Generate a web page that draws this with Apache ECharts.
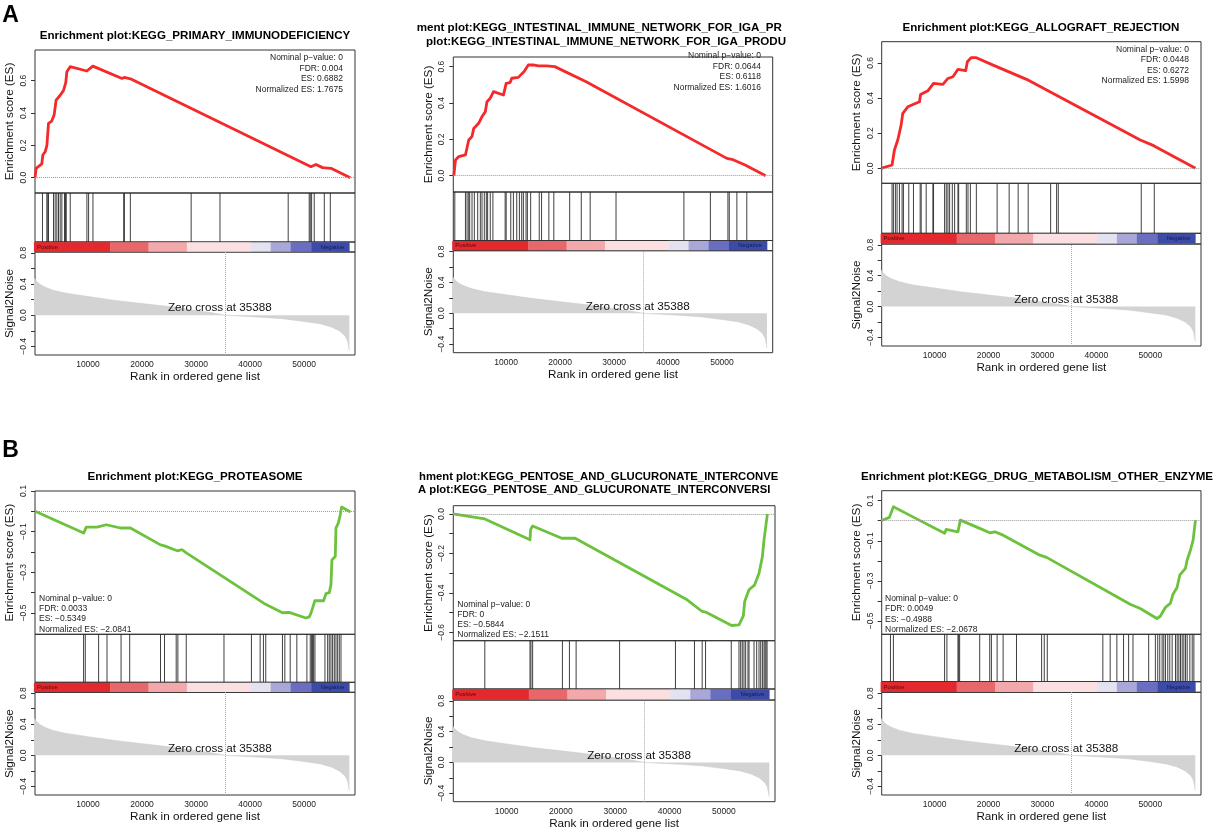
<!DOCTYPE html>
<html><head><meta charset="utf-8">
<script src="https://cdn.jsdelivr.net/npm/echarts@6/dist/echarts.min.js"></script>
<style>html,body{margin:0;padding:0;background:#fff}#c{width:1216px;height:834px}</style>
</head><body><div id="c"></div>
<script>
// ---------- shared data ----------
const N_GENES = 58350;
const ZERO_CROSS = 35388;
const rankTicks = [10000, 20000, 30000, 40000, 50000];
const s2nTicks = [-0.4, -0.2, 0, 0.2, 0.4, 0.6, 0.8];
const s2nLabels = [-0.4, 0, 0.4, 0.8];
const s2nRank = [1, 300, 1000, 2000, 3500, 6000, 10000, 15000, 20000, 25000, 30000, 33000, 35388, 38000, 42000, 46000, 50000, 53000, 55000, 56500, 57500, 58000, 58350];
const s2nValue = [0.48, 0.45, 0.40, 0.36, 0.32, 0.28, 0.24, 0.19, 0.15, 0.11, 0.06, 0.03, 0, -0.01, -0.025, -0.045, -0.08, -0.11, -0.15, -0.20, -0.26, -0.32, -0.45];
const heatBreaks = [0, 14100, 21200, 28300, 40100, 43800, 47500, 51300, N_GENES];
const heatColors = ['#e3282e', '#e8676b', '#f3a8ab', '#fcdfe1', '#e3e2f1', '#a9a7d8', '#6a6ec1', '#3c4ba7'];
const esTicksA = [0, 0.2, 0.4, 0.6];
const esTicksB1 = [0.1, 0, -0.1, -0.2, -0.3, -0.4, -0.5];
const esLabelsB1 = [0.1, -0.1, -0.3, -0.5];
const esTicksB2 = [0, -0.1, -0.2, -0.3, -0.4, -0.5, -0.6];
const esLabelsB2 = [0, -0.2, -0.4, -0.6];

// ---------- panel A1 ----------
const a1Title = 'Enrichment plot:KEGG_PRIMARY_IMMUNODEFICIENCY';
const a1Rank = [220, 400, 1460, 1650, 2080, 2400, 2700, 3300, 3750, 4100, 4860, 5480, 5900, 6100, 6700, 9800, 10900, 16300, 16700, 17850, 51250, 52170, 53400, 54950, 58540];
const a1ES = [0, 0.058, 0.085, 0.14, 0.16, 0.2, 0.336, 0.35, 0.39, 0.48, 0.51, 0.54, 0.59, 0.656, 0.687, 0.66, 0.69, 0.614, 0.62, 0.612, 0.068, 0.082, 0.062, 0.058, 0];
const a1Hits = [1580, 2390, 2570, 2700, 3620, 3930, 4240, 4550, 4860, 5170, 5660, 5850, 5980, 6720, 9800, 10120, 10920, 16610, 16740, 17840, 29090, 34420, 47040, 50930, 51120, 51370, 51860, 53720, 54830];
const a1Stats = ['Nominal p\u2212value: 0', 'FDR: 0.004', 'ES: 0.6882', 'Normalized ES: 1.7675'];

// ---------- panel A2 ----------
const a2Title1 = 'ment plot:KEGG_INTESTINAL_IMMUNE_NETWORK_FOR_IGA_PRODUCTION';
const a2Title2 = 'plot:KEGG_INTESTINAL_IMMUNE_NETWORK_FOR_IGA_PRODUCTION';
const a2Rank = [300, 600, 1220, 2450, 3060, 3670, 3980, 4900, 5520, 6130, 6440, 7050, 7660, 9500, 10000, 10730, 11040, 12260, 12880, 13300, 14100, 15020, 15940, 17480, 17790, 19010, 24830, 50900, 51840, 54290, 58090];
const a2ES = [0, 0.086, 0.105, 0.114, 0.196, 0.215, 0.26, 0.288, 0.325, 0.352, 0.407, 0.426, 0.462, 0.444, 0.508, 0.512, 0.536, 0.541, 0.56, 0.572, 0.609, 0.609, 0.604, 0.604, 0.609, 0.6, 0.517, 0.095, 0.09, 0.059, 0];
const a2Hits = [480, 2450, 2750, 3060, 3240, 3670, 4100, 4720, 5210, 5520, 5950, 6320, 6560, 7050, 7540, 9810, 10000, 10850, 11340, 11960, 12450, 12880, 13190, 13680, 13930, 14540, 16130, 16560, 17910, 18830, 21770, 23920, 25570, 30360, 42940, 47850, 51100, 51350, 52760, 54600];
const a2Stats = ['Nominal p\u2212value: 0', 'FDR: 0.0644', 'ES: 0.6118', 'Normalized ES: 1.6016'];

// ---------- panel A3 ----------
const a3Title = 'Enrichment plot:KEGG_ALLOGRAFT_REJECTION';
const a3Rank = [80, 2120, 2560, 3180, 3800, 4110, 5040, 7210, 7400, 8760, 9810, 11550, 12480, 13410, 14340, 15770, 16080, 16820, 17750, 20850, 27050, 48140, 50620, 58370];
const a3ES = [0, 0.019, 0.104, 0.161, 0.246, 0.313, 0.35, 0.379, 0.42, 0.441, 0.483, 0.477, 0.511, 0.521, 0.563, 0.555, 0.606, 0.63, 0.629, 0.587, 0.506, 0.161, 0.129, 0];
const a3Hits = [2120, 2370, 2740, 3050, 3490, 3980, 4230, 5220, 6090, 7330, 7520, 8450, 9690, 9810, 11860, 12170, 12480, 12790, 13290, 13720, 14340, 14470, 15890, 16200, 16640, 17750, 21600, 23830, 25500, 27360, 31520, 32630, 32940, 48320, 50740];
const a3Stats = ['Nominal p\u2212value: 0', 'FDR: 0.0448', 'ES: 0.6272', 'Normalized ES: 1.5998'];

// ---------- panel B1 ----------
const b1Title = 'Enrichment plot:KEGG_PROTEASOME';
const b1Rank = [220, 9190, 9500, 9690, 11670, 13400, 16000, 17850, 23420, 24160, 26510, 27430, 28050, 42580, 45980, 47220, 47400, 50310, 50930, 51240, 51980, 53590, 54030, 54640, 54950, 55130, 55750, 55880, 56310, 56680, 56930, 58540];
const b1ES = [0, -0.107, -0.115, -0.078, -0.078, -0.066, -0.082, -0.082, -0.165, -0.17, -0.194, -0.189, -0.202, -0.453, -0.499, -0.497, -0.505, -0.525, -0.519, -0.502, -0.439, -0.44, -0.405, -0.4, -0.362, -0.239, -0.222, -0.082, -0.058, -0.016, 0.021, -0.003];
const b1Hits = [9190, 9500, 11970, 13520, 16120, 17720, 23420, 24160, 26320, 26630, 28180, 35160, 40240, 41850, 42460, 42890, 45980, 46420, 47410, 48640, 50500, 51120, 51370, 51550, 51740, 51990, 53840, 54340, 54640, 54950, 55260, 55570, 55880, 56190, 56500, 56810];
const b1Stats = ['Nominal p\u2212value: 0', 'FDR: 0.0033', 'ES: \u22120.5349', 'Normalized ES: \u22122.0841'];

// ---------- panel B2 ----------
const b2Title1 = 'hment plot:KEGG_PENTOSE_AND_GLUCURONATE_INTERCONVERSION';
const b2Title2 = 'A plot:KEGG_PENTOSE_AND_GLUCURONATE_INTERCONVERSION';
const b2Rank = [150, 6000, 14310, 14430, 14800, 20150, 22620, 43230, 46000, 46800, 51420, 52770, 53570, 53820, 54620, 55660, 56460, 57080, 57380, 58000];
const b2ES = [0, -0.025, -0.131, -0.078, -0.061, -0.123, -0.123, -0.435, -0.494, -0.499, -0.565, -0.562, -0.516, -0.443, -0.384, -0.359, -0.3, -0.216, -0.131, 0];
const b2Hits = [6000, 14310, 14490, 14800, 20280, 21570, 22800, 30800, 41080, 44580, 46000, 46620, 51350, 52770, 53080, 53380, 53690, 54000, 54430, 54620, 55540, 56030, 56460, 56770, 57080, 57380, 57570, 57750, 57940];
const b2Stats = ['Nominal p\u2212value: 0', 'FDR: 0', 'ES: \u22120.5844', 'Normalized ES: \u22122.1511'];

// ---------- panel B3 ----------
const b3Title = 'Enrichment plot:KEGG_DRUG_METABOLISM_OTHER_ENZYME';
const b3Rank = [80, 1630, 2370, 5350, 11860, 12170, 14340, 14780, 18370, 20230, 21160, 22710, 29530, 30770, 46270, 48130, 51230, 51850, 52790, 53720, 54210, 54960, 55460, 56510, 56820, 57440, 57940, 58370];
const b3ES = [0, 0.017, 0.07, 0.028, -0.063, -0.043, -0.055, 0.003, -0.038, -0.06, -0.055, -0.072, -0.172, -0.183, -0.417, -0.438, -0.488, -0.477, -0.433, -0.413, -0.367, -0.333, -0.272, -0.238, -0.197, -0.147, -0.097, 0.003];
const b3Hits = [1820, 2370, 11860, 12290, 14340, 14470, 14650, 18370, 20230, 20540, 21600, 22710, 25190, 29850, 30340, 30900, 41200, 42560, 43800, 45040, 45980, 46790, 49700, 50940, 51380, 51750, 52190, 52500, 52810, 53240, 53610, 54050, 54670, 54980, 55290, 55600, 55910, 56220, 56530, 56840, 57330, 57770, 58080];
const b3Stats = ['Nominal p\u2212value: 0', 'FDR: 0.0049', 'ES: \u22120.4988', 'Normalized ES: \u22122.0678'];

// ---------- styling / layout ----------
const FONT = '"Liberation Sans", Arial, Helvetica, sans-serif';
const RED = '#f5282a';
const GREEN = '#6cc23d';
const X_MIN = 200, X_MAX = 59400;
const S2N_MIN = -0.51, S2N_MAX = 0.81;
const ZERO_TEXT_X = 34400, ZERO_TEXT_Y = 0.09;

const panels = [
  {rank: a1Rank, es: a1ES, hits: a1Hits, stats: a1Stats, color: RED, esTicks: esTicksA, esLabels: esTicksA,
   L: 35, R: 355, t: [50, 193, 242, 252, 355], esMin: -0.095, esMax: 0.79,
   st: {x: 343, y: 58, dy: 10.4, align: 'right'}},
  {rank: a2Rank, es: a2ES, hits: a2Hits, stats: a2Stats, color: RED, esTicks: esTicksA, esLabels: esTicksA,
   L: 453.3, R: 772.7, t: [57, 192, 240.5, 250.7, 352.7], esMin: -0.09, esMax: 0.653,
   st: {x: 761, y: 55.7, dy: 10.7, align: 'right'}},
  {rank: a3Rank, es: a3ES, hits: a3Hits, stats: a3Stats, color: RED, esTicks: esTicksA, esLabels: esTicksA,
   L: 881.7, R: 1201, t: [41.7, 183.3, 233.3, 244, 346], esMin: -0.085, esMax: 0.72,
   st: {x: 1189, y: 49.3, dy: 10.5, align: 'right'}},
  {rank: b1Rank, es: b1ES, hits: b1Hits, stats: b1Stats, color: GREEN, esTicks: esTicksB1, esLabels: esLabelsB1,
   L: 35, R: 355, t: [491, 634.3, 682.3, 692.3, 795], esMin: -0.605, esMax: 0.10,
   st: {x: 39, y: 598.3, dy: 10.3, align: 'left'}},
  {rank: b2Rank, es: b2ES, hits: b2Hits, stats: b2Stats, color: GREEN, esTicks: esTicksB2, esLabels: esLabelsB2,
   L: 453.3, R: 775, t: [505.7, 640.7, 689, 700, 801.7], esMin: -0.642, esMax: 0.042,
   st: {x: 457.3, y: 605, dy: 10, align: 'left'}},
  {rank: b3Rank, es: b3ES, hits: b3Hits, stats: b3Stats, color: GREEN, esTicks: esTicksB1, esLabels: esLabelsB1,
   L: 881.7, R: 1201, t: [490.7, 634.3, 681.7, 692.3, 795], esMin: -0.567, esMax: 0.15,
   st: {x: 885, y: 598.3, dy: 10.5, align: 'left'}}
];

const titles = [
  {text: a1Title, x: 195, y: 36, align: 'center', size: 11.6},
  {text: a2Title1, x: 416.7, y: 27.3, align: 'left', width: 371, size: 11.6},
  {text: a2Title2, x: 426, y: 41.7, align: 'left', width: 364, size: 11.6},
  {text: a3Title, x: 1041, y: 27.5, align: 'center', size: 11.6},
  {text: b1Title, x: 195, y: 476.7, align: 'center', size: 11.6},
  {text: b2Title1, x: 419, y: 476.7, align: 'left', width: 362, size: 11.3},
  {text: b2Title2, x: 418, y: 490, align: 'left', width: 363, size: 11.3},
  {text: b3Title, x: 1037, y: 476.7, align: 'center', size: 11.6}
];

function fmt(v) {
  const s = Math.abs(v).toFixed(1);
  return v < -1e-9 ? '\u2212' + s : s;
}

const grids = [], xAxes = [], yAxes = [], series = [], graphics = [];

panels.forEach((p, i) => {
  const base = i * 4;
  const w = p.R - p.L;
  for (let k = 0; k < 4; k++) {
    grids.push({left: p.L, top: p.t[k], width: w, height: p.t[k + 1] - p.t[k],
      show: true, borderColor: '#333', borderWidth: 1, backgroundColor: 'transparent', containLabel: false});
    const xa = {gridIndex: base + k, type: 'value', min: X_MIN, max: X_MAX, show: k === 3,
      axisLine: {show: false}, axisTick: {show: false}, splitLine: {show: false}};
    if (k === 3) {
      xa.axisLabel = {customValues: rankTicks, fontSize: 8.5, color: '#222', margin: 5, fontFamily: FONT,
        formatter: v => String(Math.round(v))};
      xa.name = 'Rank in ordered gene list';
      xa.nameLocation = 'middle';
      xa.nameGap = 16;
      xa.nameTextStyle = {fontSize: 11.7, color: '#111', fontFamily: FONT};
    }
    xAxes.push(xa);
  }
  yAxes.push({gridIndex: base, type: 'value', min: p.esMin, max: p.esMax,
    axisLine: {show: false}, splitLine: {show: false},
    axisTick: {show: true, length: 4, customValues: p.esTicks, lineStyle: {color: '#333', width: 1}},
    axisLabel: {customValues: p.esLabels, rotate: 90, fontSize: 8.5, color: '#222', margin: 7, fontFamily: FONT, formatter: fmt},
    name: 'Enrichment score (ES)', nameLocation: 'middle', nameGap: 19,
    nameTextStyle: {fontSize: 11.7, color: '#111', fontFamily: FONT}});
  yAxes.push({gridIndex: base + 1, type: 'value', min: 0, max: 1, show: false, splitLine: {show: false}});
  yAxes.push({gridIndex: base + 2, type: 'value', min: -0.04, max: 1.04, show: false, splitLine: {show: false}});
  yAxes.push({gridIndex: base + 3, type: 'value', min: S2N_MIN, max: S2N_MAX,
    axisLine: {show: false}, splitLine: {show: false},
    axisTick: {show: true, length: 4, customValues: s2nTicks, lineStyle: {color: '#333', width: 1}},
    axisLabel: {customValues: s2nLabels, rotate: 90, fontSize: 8.5, color: '#222', margin: 7, fontFamily: FONT, formatter: fmt},
    name: 'Signal2Noise', nameLocation: 'middle', nameGap: 19,
    nameTextStyle: {fontSize: 11.7, color: '#111', fontFamily: FONT}});

  series.push({type: 'line', xAxisIndex: base, yAxisIndex: base, data: [], z: 1, silent: true,
    markLine: {silent: true, symbol: 'none', animation: false, label: {show: false},
      lineStyle: {color: '#9a9a9a', type: 'dotted', width: 1}, data: [{yAxis: 0}]}});
  series.push({type: 'line', xAxisIndex: base, yAxisIndex: base,
    data: p.rank.map((r, j) => [r, p.es[j]]), showSymbol: false, symbol: 'none', silent: true, z: 3,
    lineStyle: {color: p.color, width: 2.8, join: 'round'}, itemStyle: {color: p.color}});
  series.push({type: 'custom', xAxisIndex: base + 1, yAxisIndex: base + 1, silent: true,
    data: p.hits.map(h => [h, 0]), encode: {x: 0, y: 1},
    renderItem: (params, api) => {
      const a = api.coord([api.value(0), 0]);
      const b = api.coord([api.value(0), 1]);
      return {type: 'line', shape: {x1: a[0], y1: a[1], x2: b[0], y2: b[1]},
        style: {stroke: '#2a2a2a', lineWidth: 0.9}};
    }});
  series.push({type: 'custom', xAxisIndex: base + 2, yAxisIndex: base + 2, silent: true,
    data: heatBreaks.slice(0, -1).map((b, j) => [b, heatBreaks[j + 1], j]), encode: {x: [0, 1]},
    renderItem: (params, api) => {
      const idx = api.value(2);
      const a = api.coord([api.value(0), 1]);
      const b = api.coord([api.value(1), 0]);
      const children = [{type: 'rect', shape: {x: a[0], y: a[1], width: b[0] - a[0] + 0.3, height: b[1] - a[1]},
        style: {fill: heatColors[idx]}}];
      if (idx === 0) children.push({type: 'text', x: a[0] + 3, y: (a[1] + b[1]) / 2,
        style: {text: 'Positive', font: '6px ' + FONT, fill: '#5a0a0a', verticalAlign: 'middle', textVerticalAlign: 'middle', textAlign: 'left'}});
      if (idx === heatColors.length - 1) children.push({type: 'text', x: b[0] - 5, y: (a[1] + b[1]) / 2,
        style: {text: 'Negative', font: '6px ' + FONT, fill: '#141a55', verticalAlign: 'middle', textVerticalAlign: 'middle', textAlign: 'right'}});
      return {type: 'group', children: children};
    }});
  series.push({type: 'line', xAxisIndex: base + 3, yAxisIndex: base + 3,
    data: s2nRank.map((r, j) => [r, s2nValue[j]]), showSymbol: false, symbol: 'none', silent: true,
    lineStyle: {width: 0.6, color: '#cdcdcd'}, areaStyle: {color: '#d3d3d3', opacity: 1},
    markLine: {silent: true, symbol: 'none', animation: false, label: {show: false},
      lineStyle: {color: '#a8a8a8', type: 'dotted', width: 1}, data: [{xAxis: ZERO_CROSS}]},
    markPoint: {silent: true, animation: false, symbol: 'circle', symbolSize: 1,
      itemStyle: {color: 'rgba(0,0,0,0)'},
      label: {show: true, position: 'inside', formatter: 'Zero cross at ' + ZERO_CROSS,
        fontSize: 11.7, color: '#111', fontFamily: FONT},
      data: [{coord: [ZERO_TEXT_X, ZERO_TEXT_Y]}]}});

  p.stats.forEach((s, j) => {
    graphics.push({type: 'text', x: p.st.x, y: p.st.y + j * p.st.dy, silent: true, z: 10,
      style: {text: s, font: '8.5px ' + FONT, fill: '#222', textAlign: p.st.align,
        verticalAlign: 'middle', textVerticalAlign: 'middle'}});
  });
});

titles.forEach(tt => {
  const style = {text: tt.text, font: 'bold ' + tt.size + 'px ' + FONT, fill: '#000', textAlign: tt.align,
    verticalAlign: 'middle', textVerticalAlign: 'middle'};
  if (tt.width) { style.width = tt.width; style.overflow = 'truncate'; style.ellipsis = ''; }
  graphics.push({type: 'text', x: tt.x, y: tt.y, silent: true, z: 10, style: style});
});
graphics.push({type: 'text', x: 10.5, y: 16, silent: true,
  style: {text: 'A', font: 'bold 23px ' + FONT, fill: '#000', textAlign: 'center', verticalAlign: 'middle', textVerticalAlign: 'middle'}});
graphics.push({type: 'text', x: 10.5, y: 450.5, silent: true,
  style: {text: 'B', font: 'bold 23px ' + FONT, fill: '#000', textAlign: 'center', verticalAlign: 'middle', textVerticalAlign: 'middle'}});

const chart = echarts.init(document.getElementById('c'), null, {renderer: 'canvas'});
chart.setOption({
  animation: false,
  backgroundColor: '#ffffff',
  grid: grids,
  xAxis: xAxes,
  yAxis: yAxes,
  series: series,
  graphic: {elements: graphics}
});
</script>
</body></html>
